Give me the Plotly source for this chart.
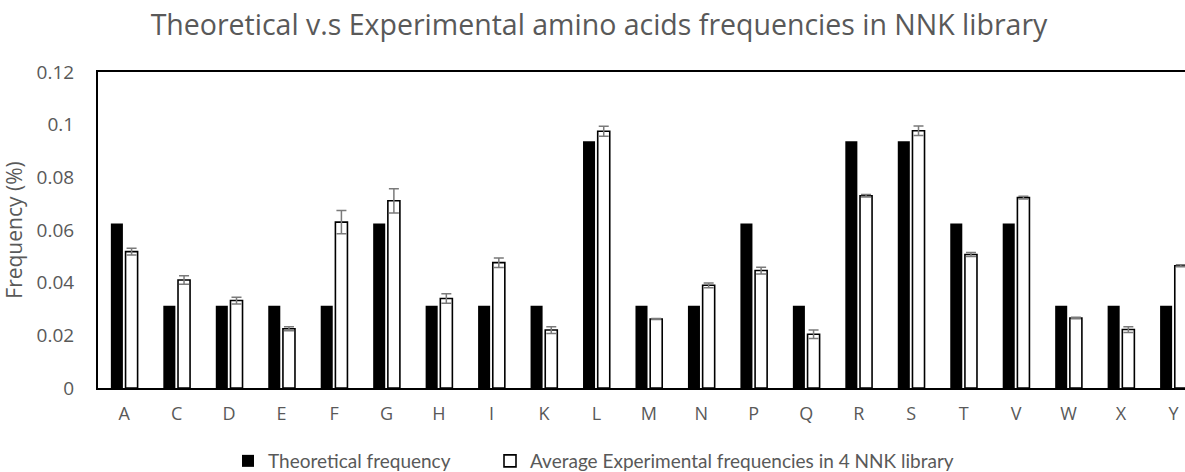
import plotly.graph_objects as go

# Amino acid categories (X = stop codon)
amino_acids = ["A", "C", "D", "E", "F", "G", "H", "I", "K", "L", "M",
               "N", "P", "Q", "R", "S", "T", "V", "W", "X", "Y"]

# Codons per amino acid in an NNK library (32 codons total)
nnk_codons = [2, 1, 1, 1, 1, 2, 1, 1, 1, 3, 1,
              1, 2, 1, 3, 3, 2, 2, 1, 1, 1]
theoretical = [c / 32 for c in nnk_codons]

# Mean experimental frequency across 4 NNK libraries and its error
experimental = [0.0518, 0.0410, 0.0332, 0.0225, 0.0630, 0.0711, 0.0340,
                0.0476, 0.0220, 0.0975, 0.0262, 0.0390, 0.0446, 0.0204,
                0.0730, 0.0977, 0.0507, 0.0723, 0.0266, 0.0222, 0.0464]
experimental_err = [0.0013, 0.0016, 0.0013, 0.0008, 0.0044, 0.0046, 0.0018,
                    0.0018, 0.0013, 0.0019, 0.0002, 0.0009, 0.0013, 0.0016,
                    0.0005, 0.0018, 0.0008, 0.0005, 0.0003, 0.0011, 0.0004]

y_ticks = [0, 0.02, 0.04, 0.06, 0.08, 0.1, 0.12]
y_tick_text = ["0", "0.02", "0.04", "0.06", "0.08", "0.1", "0.12"]

MAIN_FONT = "Open Sans, Segoe UI, sans-serif"
LEGEND_FONT = "Lato, Carlito, Calibri, sans-serif"
GREY = "#595959"

fig = go.Figure()
fig.add_trace(go.Bar(
    x=amino_acids, y=theoretical, name="Theoretical frequency",
    marker=dict(color="black", line=dict(color="black", width=0)),
    legend="legend",
))
fig.add_trace(go.Bar(
    x=amino_acids, y=experimental,
    name="Average Experimental frequencies in 4 NNK library",
    marker=dict(color="white", line=dict(color="black", width=1.6)),
    error_y=dict(type="data", array=experimental_err, visible=True,
                 color="#7a7a7a", thickness=1.5, width=5),
    legend="legend2",
))

legend_style = dict(
    orientation="h", xref="container", yref="container",
    xanchor="left", y=1 - 461 / 472, yanchor="middle",
    font=dict(family=LEGEND_FONT, size=19, color=GREY),
    itemwidth=30, bgcolor="rgba(0,0,0,0)",
)

fig.update_layout(
    width=1185, height=472,
    margin=dict(l=98, r=0, t=72, b=84),
    paper_bgcolor="white", plot_bgcolor="white",
    barmode="group", bargap=0.44, bargroupgap=0.18,
    font=dict(family=MAIN_FONT, color=GREY),
    title=dict(
        text="Theoretical v.s Experimental amino acids frequencies in NNK library",
        font=dict(family=MAIN_FONT, size=28.5, color=GREY),
        x=599 / 1185, xanchor="center", xref="container",
        y=1 - 25 / 472, yanchor="middle", yref="container",
    ),
    legend=dict(x=228 / 1185, **legend_style),
    legend2=dict(x=490 / 1185, **legend_style),
    showlegend=True,
)

fig.update_xaxes(
    range=[-0.5, 20.22], showline=True, linecolor="black", linewidth=2,
    mirror=True, ticks="", showgrid=False, ticklabelstandoff=8,
    tickfont=dict(family=MAIN_FONT, size=18, color=GREY),
)
fig.update_yaxes(
    range=[0, 0.12], tickvals=y_ticks, ticktext=y_tick_text,
    showline=True, linecolor="black", linewidth=2, mirror=False,
    ticks="", showgrid=False, zeroline=False, ticklabelstandoff=18,
    tickfont=dict(family=MAIN_FONT, size=19, color=GREY),
    title=dict(text="Frequency (%)", font=dict(family=MAIN_FONT, size=21, color=GREY),
               standoff=10),
)

fig.write_html("out.html")
